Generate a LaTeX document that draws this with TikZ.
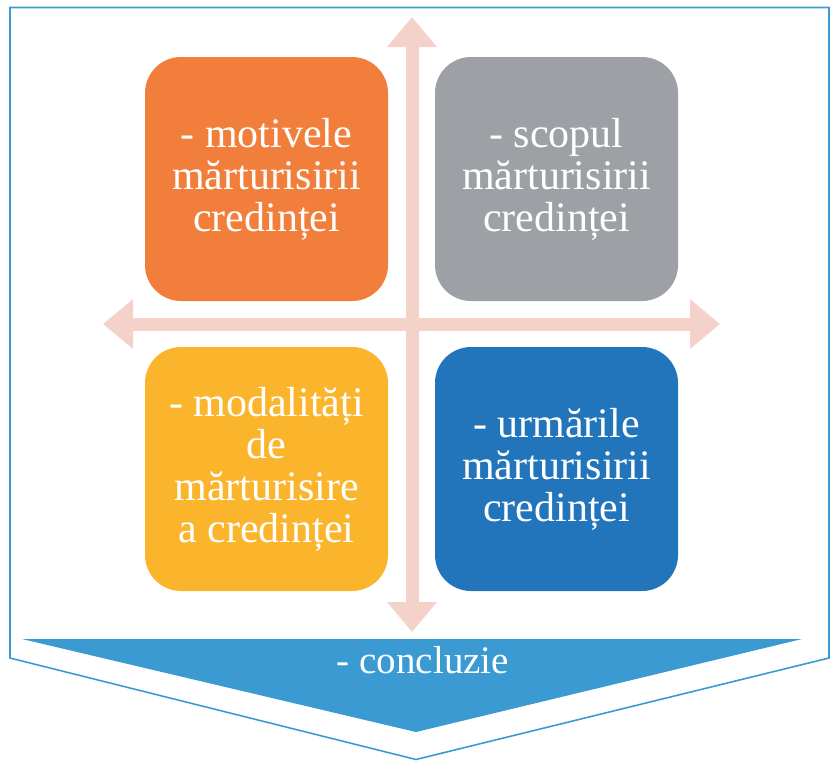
\documentclass[tikz,border=0pt]{standalone}
\usepackage{fontspec}
\setmainfont{Liberation Serif}
\usetikzlibrary{arrows.meta}
\definecolor{cOrange}{HTML}{F17E3A}
\definecolor{cGray}{HTML}{9DA1A5}
\definecolor{cYellow}{HTML}{FBB52C}
\definecolor{cBlue}{HTML}{2275BB}
\definecolor{cPink}{HTML}{F4D2C9}
\definecolor{cChev}{HTML}{3B9AD2}
\definecolor{cLine}{HTML}{3A9BD3}
\tikzset{
  qbox/.style={rounded corners=36pt, minimum width=243pt, minimum height=244pt,
    align=center, text=white, inner sep=0pt,
    font=\fontsize{42}{42}\selectfont},
  crossarrow/.style={draw=cPink, line width=13pt,
    {Triangle[width=48pt,length=30pt]}-{Triangle[width=48pt,length=30pt]}},
  outline/.style={draw=cLine, line width=1.6pt, line join=miter},
}
\begin{document}
\begin{tikzpicture}[x=1pt,y=-1pt]
\useasboundingbox (0,0) rectangle (832,761);
% outer frame
\draw[outline] (10,658) -- (10,7.5) -- (829,7.5) -- (829,658) -- (416,759.5) -- cycle;
% cross arrows
\coordinate (up) at (412,17);
\coordinate (down) at (412,632);
\coordinate (left) at (103,324);
\coordinate (right) at (720,324);
\draw[crossarrow] (down) -- (up);
\draw[crossarrow] (left) -- (right);
% boxes
\node[qbox, fill=cOrange] (motive) at (266.5,179) {- motivele\\mărturisirii\\credinței};
\node[qbox, fill=cGray] (scop) at (556.5,179) {- scopul\\mărturisirii\\credinței};
\node[qbox, fill=cYellow] (modal) at (266.5,469) {- modalități\\de\\mărturisire\\a credinței};
\node[qbox, fill=cBlue] (urmari) at (556.5,469) {- urmările\\mărturisirii\\credinței};
% chevron
\fill[cChev] (22,639) -- (802,639) -- (416,732) -- cycle;
\node[text=white, font=\fontsize{39}{42}\selectfont, anchor=base] (concl) at (423,673) {- concluzie};
\end{tikzpicture}
\end{document}
